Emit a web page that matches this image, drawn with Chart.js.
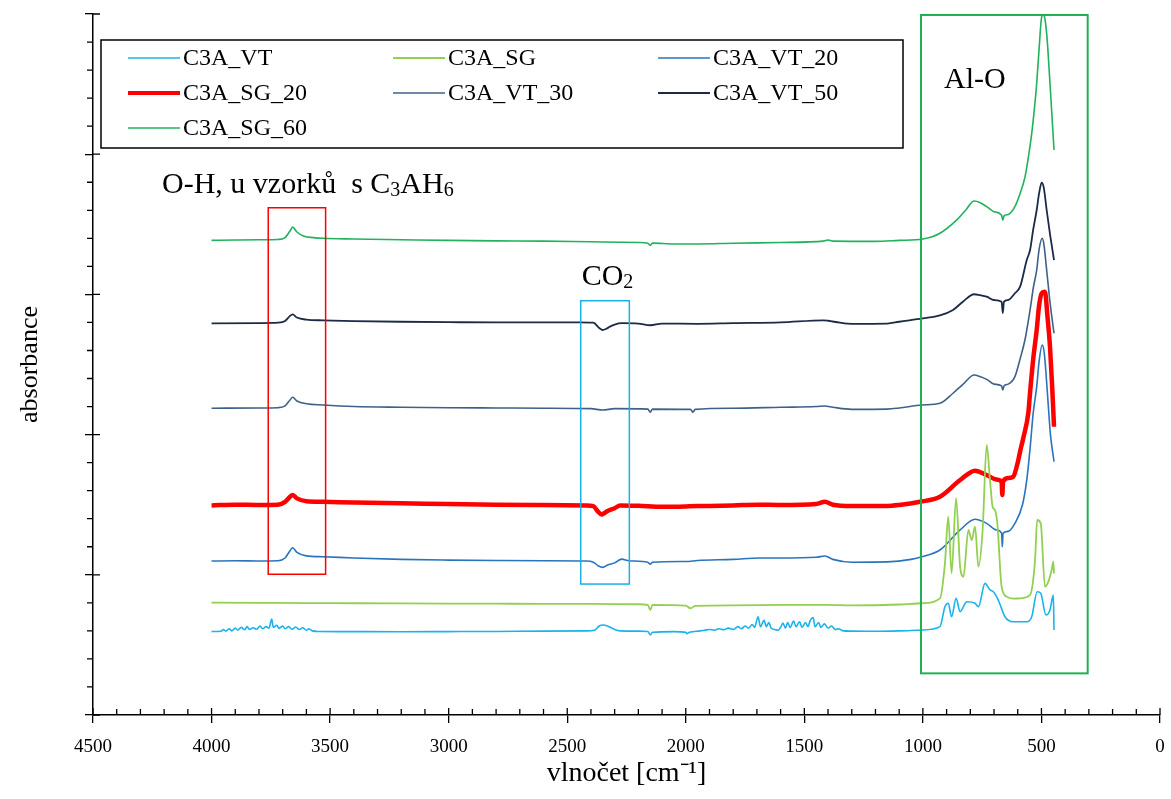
<!DOCTYPE html>
<html><head><meta charset="utf-8">
<script src="https://cdn.jsdelivr.net/npm/chart.js@4.4.1/dist/chart.umd.min.js"></script>
<style>html,body{margin:0;padding:0;background:#fff}#wrap{width:1171px;height:799px;position:relative}</style>
</head><body><div id="wrap"><canvas id="c"></canvas></div>
<script>
// ---- data (wavenumber cm-1 / absorbance, arbitrary offset units) ----
const seriesNames = ['C3A_VT','C3A_SG','C3A_VT_20','C3A_SG_20','C3A_VT_30','C3A_VT_50','C3A_SG_60'];
const xTickLabels = [4500,4000,3500,3000,2500,2000,1500,1000,500,0];

const vtWn = [4000,3960,3950,3940,3925,3915,3900,3890,3875,3860,3850,3840,3825,3810,3795,3785,3770,3758,3746,3740,3725,3715,3700,3690,3675,3660,3645,3630,3615,3600,3590,3575,3550,3450,3200,3000,2800,2600,2420,2385,2365,2349,2330,2300,2277,2200,2160,2150,2140,2050,2000,1995,1985,1940,1920,1900,1880,1860,1840,1820,1800,1780,1765,1750,1735,1720,1710,1695,1685,1670,1660,1650,1640,1625,1610,1600,1590,1580,1570,1560,1545,1535,1520,1510,1495,1485,1475,1463,1455,1440,1430,1415,1400,1385,1370,1355,1340,1300,1200,1100,1004,928,907,893,879,860,843,815,780,766,738,717,703,682,654,619,562,541,518,503,481,464,450,447];
const vtVal = [5.95,5.97,6.1,5.98,6.15,6.0,6.2,6.05,6.25,6.08,6.3,6.1,6.22,6.12,6.35,6.15,6.3,6.2,6.85,6.25,6.4,6.18,6.35,6.15,6.3,6.12,6.28,6.1,6.22,6.05,6.15,6.0,5.96,5.95,5.94,5.95,5.96,5.98,6.0,6.05,6.35,6.42,6.35,6.1,6.0,5.98,5.95,5.71,5.9,5.95,5.9,5.8,5.9,6.0,6.05,6.1,6.05,6.15,6.08,6.2,6.1,6.3,6.15,6.35,6.2,6.45,6.25,7.0,6.3,6.75,6.3,6.6,6.2,6.1,6.05,6.25,6.55,6.2,6.6,6.25,6.7,6.3,6.65,6.25,6.6,6.3,6.75,6.95,6.3,6.6,6.25,6.5,6.2,6.35,6.1,6.15,6.02,5.98,5.97,6.0,6.06,6.3,7.72,7.97,7.01,8.32,7.37,8.08,7.97,7.72,9.39,8.92,8.79,8.2,7.01,6.65,6.65,7.01,8.79,8.68,7.13,7.49,8.56,6.06];

const sgWn = [4000,3800,3600,3400,3200,3000,2800,2600,2400,2200,2160,2150,2140,2000,1980,1960,1800,1600,1400,1300,1100,1004,928,907,893,879,860,843,829,808,794,780,766,748,731,717,706,696,686,668,647,620,590,548,527,518,503,485,471,457,450,447];
const sgVal = [8.02,8.0,7.98,7.97,7.96,7.95,7.94,7.93,7.92,7.9,7.85,7.49,7.85,7.8,7.61,7.78,7.82,7.85,7.86,7.82,7.88,7.97,8.32,10.82,14.14,10.11,15.46,10.58,9.86,13.2,12.48,13.43,10.58,13.2,19.26,16.76,14.86,14.62,13.67,9.15,8.44,8.3,8.32,8.56,11.06,13.91,13.67,9.15,9.51,10.34,10.93,10.1];

const vt20Wn = [4000,3900,3800,3720,3690,3670,3658,3640,3600,3530,3400,3200,3000,2800,2600,2420,2390,2370,2350,2330,2300,2270,2240,2160,2150,2140,2000,1950,1800,1690,1600,1450,1413,1380,1300,1150,1050,1004,928,843,780,731,690,668,665,662,640,612,580,562,548,535,520,510,497,488,475,462,447];
const vt20Val = [10.98,11.0,10.98,11.0,11.2,11.7,11.93,11.6,11.35,11.29,11.2,11.1,11.05,11.02,11.0,10.98,10.9,10.65,10.53,10.7,10.85,11.12,11.0,10.9,10.75,10.9,10.95,11.02,11.1,11.2,11.2,11.25,11.34,11.1,10.9,10.92,11.1,11.29,11.77,13.2,13.96,13.67,13.2,12.96,12.0,12.96,13.1,13.67,15.0,16.76,19.0,21.5,23.42,25.2,26.39,25.8,23.0,20.0,18.07];

const sg20Wn = [4000,3900,3800,3720,3690,3670,3658,3640,3600,3530,3400,3200,3000,2800,2600,2420,2390,2370,2355,2345,2330,2300,2277,2200,2100,1950,1800,1700,1600,1450,1413,1380,1300,1150,1100,1012,928,843,780,731,690,668,665,662,640,619,600,590,576,555,548,534,520,510,499,485,475,464,455,447];
const sg20Val = [14.95,15.0,14.98,15.0,15.2,15.55,15.69,15.45,15.25,15.21,15.15,15.1,15.05,15.0,14.98,14.95,14.9,14.5,14.3,14.39,14.55,14.75,14.95,14.92,14.85,14.9,14.95,15.0,14.98,15.05,15.21,15.0,14.91,14.91,14.98,15.21,15.57,16.76,17.43,17.12,16.8,16.64,15.69,16.64,16.9,17.0,18.0,18.8,19.8,21.6,23.0,25.5,27.46,29.2,30.08,30.19,28.5,26.27,23.5,20.56];

const vt30Wn = [4000,3800,3720,3690,3670,3658,3640,3600,3530,3400,3200,3000,2800,2600,2400,2350,2300,2160,2150,2140,1980,1970,1960,1800,1600,1450,1413,1380,1300,1150,1100,1004,928,873,830,784,760,731,700,668,663,658,640,612,590,569,548,534,520,510,497,490,478,463,447];
const vt30Val = [21.88,21.9,21.92,22.05,22.45,22.66,22.4,22.2,22.11,22.0,21.95,21.92,21.9,21.88,21.85,21.75,21.85,21.82,21.6,21.82,21.8,21.6,21.8,21.88,21.95,22.0,22.04,21.95,21.8,21.82,21.9,22.11,22.23,22.95,23.6,24.25,24.15,23.94,23.6,23.47,23.18,23.47,23.6,24.13,25.4,26.8,28.89,30.5,31.74,33.2,34.0,33.6,31.74,29.3,27.23];

const vt50Wn = [4000,3800,3720,3690,3670,3658,3640,3600,3530,3400,3200,3000,2800,2600,2450,2390,2365,2350,2335,2320,2300,2270,2200,2150,2100,1950,1800,1600,1420,1400,1350,1300,1150,1100,1000,928,873,830,784,760,731,700,668,663,658,640,612,590,562,548,535,520,510,499,490,478,463,447];
const vt50Val = [27.94,27.95,27.98,28.1,28.45,28.58,28.35,28.2,28.15,28.1,28.05,28.02,28.0,28.0,28.0,27.98,27.6,27.46,27.55,27.7,27.85,27.95,27.92,27.8,27.92,27.9,27.95,28.0,28.15,28.12,27.98,27.9,27.92,28.05,28.29,28.5,28.89,29.5,30.01,29.95,29.84,29.6,29.48,28.67,29.48,29.6,30.08,30.55,32.45,33.17,34.6,36.02,37.2,37.97,37.6,36.02,34.2,32.45];

const sg60Wn = [4000,3900,3800,3720,3690,3670,3658,3640,3610,3570,3530,3400,3200,3000,2800,2600,2400,2200,2160,2150,2140,2050,1950,1800,1600,1420,1400,1380,1200,1100,1000,928,857,820,784,760,731,700,668,663,658,640,612,590,569,555,541,530,520,510,499,493,489,478,464,447];
const sg60Val = [33.85,33.88,33.9,33.92,34.05,34.5,34.8,34.45,34.15,34.05,34.0,33.95,33.9,33.85,33.82,33.8,33.75,33.7,33.65,33.5,33.66,33.6,33.6,33.65,33.7,33.8,33.88,33.8,33.78,33.85,33.95,34.36,35.31,36.0,36.66,36.55,36.26,35.9,35.65,35.3,35.6,35.7,36.26,37.2,38.4,39.8,41.49,43.2,45.06,47.5,49.8,49.95,49.9,48.62,45.06,40.3];

const seriesColors = ['#19b3ec','#92d050','#2a74bd','#ff0000','#3f6088','#1b2a47','#20b25c'];
const seriesWidths = [1.6,1.8,1.6,4.5,1.6,1.8,1.6];

// ---- build ----
const wnArrays = [vtWn,sgWn,vt20Wn,sg20Wn,vt30Wn,vt50Wn,sg60Wn];
const valArrays = [vtVal,sgVal,vt20Val,sg20Val,vt30Val,vt50Val,sg60Val];
const SERIF = "'Liberation Serif','Times New Roman',serif";

const datasets = seriesNames.map((name,i)=>({
  label:name,
  data: wnArrays[i].map((w,k)=>({x:w,y:valArrays[i][k]})),
  borderColor:seriesColors[i],
  backgroundColor:seriesColors[i],
  borderWidth:seriesWidths[i],
  pointRadius:0,
  cubicInterpolationMode:'monotone',
  fill:false
}));

const annotations = {
  boxes:[
    {x1:3761,x2:3519,y1:36.18,y2:10.04,color:'#ff0000',w:1.5},
    {x1:2443,x2:2238,y1:29.55,y2:9.34,color:'#1cb0ea',w:1.5},
    {x1:1008,x2:305,y1:49.93,y2:2.97,color:'#1fb053',w:2}
  ],
  texts:[
    {x:4209,y:37.21,parts:[['O-H, u vzorků  s C',0],['3',1],['AH',0],['6',1]]},
    {x:2439,y:30.67,parts:[['CO',0],['2',1]]},
    {x:911,y:44.7,parts:[['Al-O',0]]}
  ]
};

const extrasPlugin = {
  id:'extras',
  afterDatasetsDraw(chart){
    const ctx=chart.ctx, xs=chart.scales.x, ys=chart.scales.y;
    ctx.save();
    annotations.boxes.forEach(b=>{
      const x1=xs.getPixelForValue(b.x1), x2=xs.getPixelForValue(b.x2);
      const y1=ys.getPixelForValue(b.y1), y2=ys.getPixelForValue(b.y2);
      ctx.strokeStyle=b.color; ctx.lineWidth=b.w;
      ctx.strokeRect(Math.min(x1,x2),Math.min(y1,y2),Math.abs(x2-x1),Math.abs(y2-y1));
    });
    ctx.fillStyle='#000'; ctx.textBaseline='alphabetic'; ctx.textAlign='left';
    annotations.texts.forEach(t=>{
      let px=xs.getPixelForValue(t.x); const py=ys.getPixelForValue(t.y);
      t.parts.forEach(([s,sub])=>{
        ctx.font=(sub?'20px ':'30px ')+SERIF;
        ctx.fillText(s,px,py+(sub?3:0));
        px+=ctx.measureText(s).width;
      });
    });
    ctx.strokeStyle='#000'; ctx.lineWidth=1.3;
    const ca=chart.chartArea;
    ctx.beginPath();
    for(let v=0; v<=4500; v+=100){
      const p=xs.getPixelForValue(v);
      ctx.moveTo(p,ca.bottom); ctx.lineTo(p,ca.bottom-(v%500===0?7:6));
    }
    for(let v=0; v<=50; v+=2){
      const p=ys.getPixelForValue(v);
      if(v%10===0){ctx.moveTo(ca.left,p); ctx.lineTo(ca.left+7,p);}
      else {ctx.moveTo(ca.left,p); ctx.lineTo(ca.left-6,p);}
    }
    ctx.stroke();
    // legend
    const lx=ca.left+8, ly=ca.top+26;
    ctx.lineWidth=1.5; ctx.strokeStyle='#000';
    ctx.strokeRect(lx,ly,802,108);
    ctx.font='24px '+SERIF; ctx.textBaseline='middle';
    chart.data.datasets.forEach((d,i)=>{
      const col=i%3,row=Math.floor(i/3);
      const sx=lx+27+col*265, sy=ly+18+row*35;
      ctx.strokeStyle=d.borderColor; ctx.lineWidth=Math.min(d.borderWidth,4);
      ctx.beginPath(); ctx.moveTo(sx,sy); ctx.lineTo(sx+52,sy); ctx.stroke();
      ctx.fillStyle='#000'; ctx.fillText(d.label,sx+55,sy+1);
    });
    ctx.restore();
  }
};

new Chart(document.getElementById('c'),{
  type:'line',
  data:{datasets},
  options:{
    responsive:true, maintainAspectRatio:false, animation:false,
    layout:{padding:{top:14,right:11,left:0,bottom:0}},
    plugins:{legend:{display:false},tooltip:{enabled:false}},
    scales:{
      x:{type:'linear',min:0,max:4500,reverse:true,
        afterBuildTicks(s){s.ticks=xTickLabels.map(v=>({value:v}));},
        afterFit(s){s.height=84; s.paddingLeft=0; s.paddingRight=0;},
        ticks:{color:'#000',font:{family:SERIF,size:19},padding:13,maxRotation:0,callback:v=>String(v)},
        grid:{drawOnChartArea:false,color:'#000',tickLength:8,lineWidth:1.3},
        border:{color:'#000',width:1.5},
        title:{display:true,text:'vlnočet [cm⁻¹]',color:'#000',font:{family:SERIF,size:28},padding:{top:0,bottom:9}}
      },
      y:{type:'linear',min:0,max:50,
        ticks:{display:false,stepSize:10},
        afterFit(s){s.width=93; s.paddingTop=0; s.paddingBottom=0;},
        grid:{drawOnChartArea:false,color:'#000',tickLength:8,lineWidth:1.3},
        border:{color:'#000',width:1.5},
        title:{display:true,text:'absorbance',color:'#000',font:{family:SERIF,size:26},padding:{top:15,bottom:0}}
      }
    }
  },
  plugins:[extrasPlugin]
});
</script>
</body></html>
